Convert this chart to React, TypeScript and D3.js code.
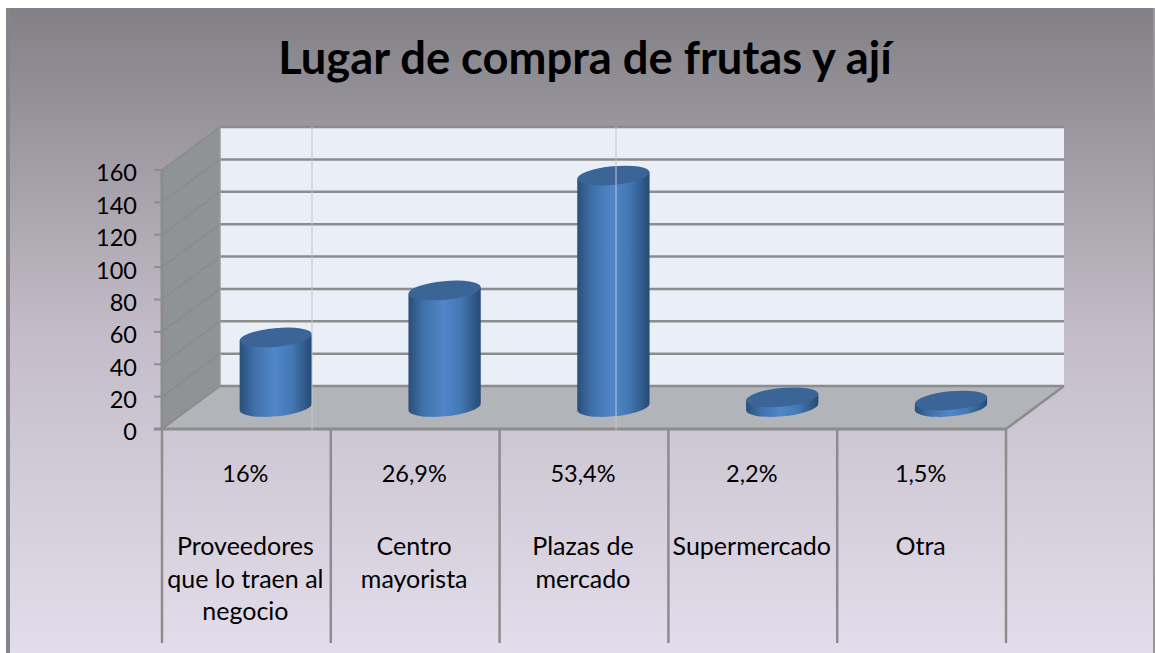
import React from "react";
import * as d3 from "d3";

const categories = ["Proveedores que lo traen al negocio", "Centro mayorista", "Plazas de mercado", "Supermercado", "Otra"];
const categoryLines = [["Proveedores", "que lo traen al", "negocio"], ["Centro", "mayorista"], ["Plazas de", "mercado"], ["Supermercado"], ["Otra"]];
const percents = ["16%", "26,9%", "53,4%", "2,2%", "1,5%"];
const values = [43, 72, 143, 6, 4];
const yTicks = [0, 20, 40, 60, 80, 100, 120, 140, 160];
const title = "Lugar de compra de frutas y ají";

const W = 1155, H = 653;
const FONT = "Lato, 'Open Sans', sans-serif";
const dx = 58, dy = -43;
const y = d3.scaleLinear().domain([0, 160]).range([429, 170]);
const x = d3.scaleBand<string>().domain(categories).range([162, 1006]);
const GRID = "#8c8c8c";

// cylinder geometry
const a = 36.3, b = 9.3, theta = (-5.5 * Math.PI) / 180;
const t = Math.atan2(-b * Math.sin(theta), a * Math.cos(theta));
const ex = a * Math.cos(t) * Math.cos(theta) - b * Math.sin(t) * Math.sin(theta);
const ey = a * Math.cos(t) * Math.sin(theta) + b * Math.sin(t) * Math.cos(theta);
const baseLift = 22;
const deg = (theta * 180) / Math.PI;

function Cylinder({ cat, v }: { cat: string; v: number }) {
  const cx = x(cat)! + x.bandwidth() * 0.67 + 0.7;
  const yb = y(0) - baseLift;
  const yt = y(v) - baseLift;
  const body = `M${cx - ex},${yt - ey} L${cx + ex},${yt + ey} L${cx + ex},${yb + ey} A${a},${b} ${deg} 0 1 ${cx - ex},${yb - ey} Z`;
  return (
    <g>
      <path d={body} fill="url(#cyl)" />
      <ellipse cx={cx} cy={yt} rx={a} ry={b} transform={`rotate(${deg} ${cx} ${yt})`} fill="#3a6596" />
    </g>
  );
}

export default function App() {
  const right = x.range()[1];
  return (
    <svg width={W} height={H} style={{ position: "absolute", left: 0, top: 0, display: "block" }} fontFamily={FONT}>
      <defs>
        <linearGradient id="bg" x1="0" y1="0" x2="0" y2="1">
          <stop offset="0" stopColor="#828085" />
          <stop offset="0.2" stopColor="#9c97a0" />
          <stop offset="0.5" stopColor="#c3bcc8" />
          <stop offset="1" stopColor="#e3ddeb" />
        </linearGradient>
        <linearGradient id="cyl" x1="0" y1="0" x2="1" y2="0">
          <stop offset="0" stopColor="#2a4f79" />
          <stop offset="0.2" stopColor="#3f70a8" />
          <stop offset="0.48" stopColor="#5087ca" />
          <stop offset="0.72" stopColor="#4478b4" />
          <stop offset="1" stopColor="#264a74" />
        </linearGradient>
      </defs>

      <rect x={6} y={8} width={W - 6} height={H - 8} fill="url(#bg)" />
      <rect x={6} y={8} width={4} height={H - 8} fill="#85848a" />
      <rect x={1153} y={8} width={2} height={H - 8} fill="#9a989e" />

      <text x={585} y={74} fontSize={45.3} fontWeight={700} textAnchor="middle" fill="#000">{title}</text>

      {/* back wall */}
      <rect x={162 + dx} y={y(160) + dy} width={right - 162} height={y(0) - y(160)} fill="#e9eef7" />
      {/* left wall */}
      <polygon
        points={`162,${y(160)} ${162 + dx},${y(160) + dy} ${162 + dx},${y(0) + dy} 162,${y(0)}`}
        fill="#909396"
      />
      {/* floor */}
      <polygon
        points={`162,${y(0)} ${162 + dx},${y(0) + dy} ${right + dx},${y(0) + dy} ${right},${y(0)}`}
        fill="#b1b4b8"
      />

      {/* gridlines */}
      {yTicks.map((v) => (
        <g key={v} stroke={GRID} fill="none">
          <line x1={162 + dx} x2={right + dx} y1={y(v) + dy} y2={y(v) + dy} strokeWidth={2.5} />
          <line x1={162} x2={162 + dx} y1={y(v)} y2={y(v) + dy} strokeWidth={2} />
          <line x1={154} x2={162} y1={y(v)} y2={y(v)} strokeWidth={2} />
        </g>
      ))}
      <line x1={162 + dx} x2={162 + dx} y1={y(160) + dy} y2={y(0) + dy} stroke="#9a9c9e" strokeWidth={1.5} />
      <line x1={right} x2={right + dx} y1={y(0)} y2={y(0) + dy} stroke={GRID} strokeWidth={2.5} />

      {/* axes */}
      <line x1={162} x2={162} y1={y(160)} y2={y(0)} stroke={GRID} strokeWidth={3} />
      <line x1={154} x2={right} y1={y(0)} y2={y(0)} stroke={GRID} strokeWidth={3} />

      {/* category table lines */}
      {[...categories.map((c) => x(c)!), right].map((px, i) => (
        <line key={i} x1={px} x2={px} y1={y(0)} y2={643} stroke={GRID} strokeWidth={2.5} />
      ))}

      {/* cylinders */}
      {categories.map((c, i) => (
        <Cylinder key={c} cat={c} v={values[i]} />
      ))}

      {/* faint vertical lines */}
      {[312, 616].map((px) => (
        <line key={px} x1={px} x2={px} y1={y(160) + dy} y2={431} stroke="#c3c5cc" strokeWidth={1} />
      ))}

      {/* y tick labels */}
      {yTicks.map((v) => (
        <text key={v} x={137} y={y(v) + 3} dy="0.36em" fontSize={23.5} textAnchor="end" fill="#000">{v}</text>
      ))}

      {/* category labels */}
      {categories.map((c, i) => {
        const cx = x(c)! + x.bandwidth() / 2 - 1;
        return (
          <g key={c} textAnchor="middle" fill="#000">
            <text x={cx} y={482} fontSize={23.5}>{percents[i]}</text>
            {categoryLines[i].map((line, j) => (
              <text key={j} x={cx} y={555 + j * 32.5} fontSize={25}>{line}</text>
            ))}
          </g>
        );
      })}
    </svg>
  );
}
